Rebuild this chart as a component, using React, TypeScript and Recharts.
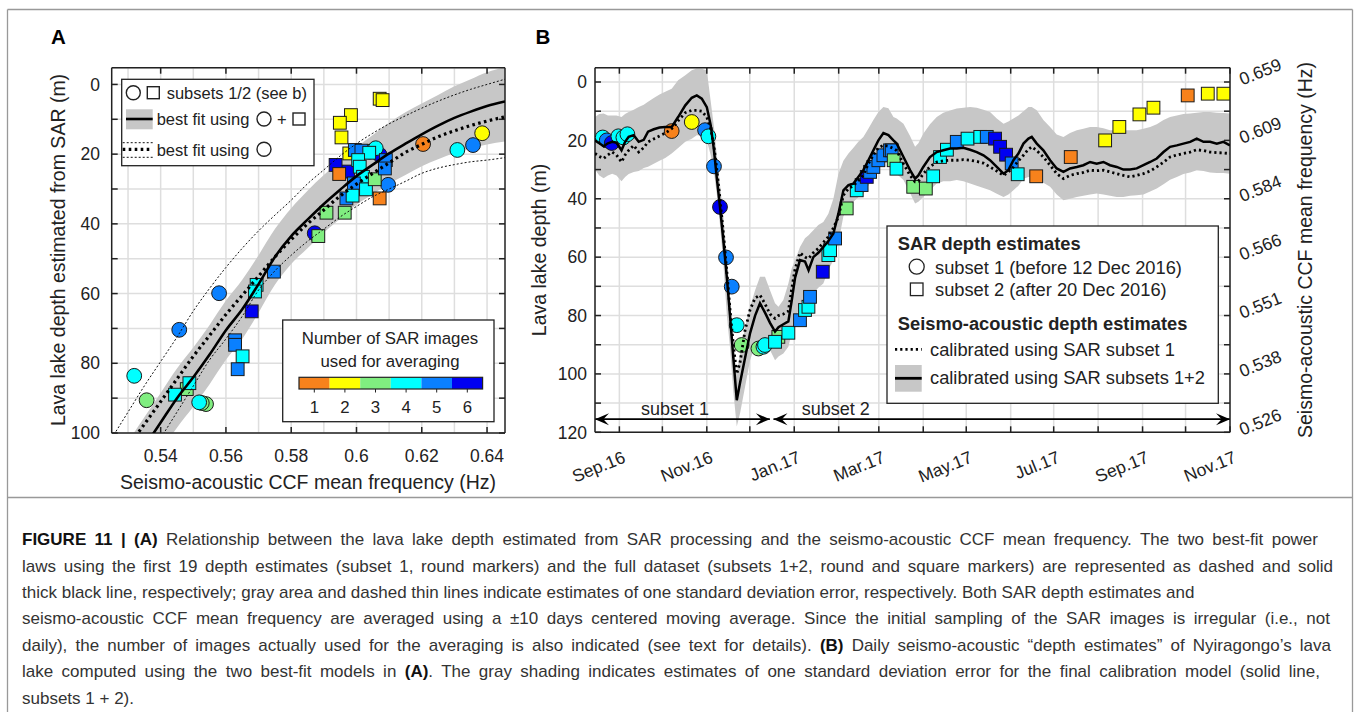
import {
  ComposedChart,
  Line,
  Area,
  Scatter,
  XAxis,
  YAxis,
  CartesianGrid,
  ReferenceLine,
  ReferenceDot
} from 'recharts'

const FONT = '"Liberation Sans", Arial, Helvetica, sans-serif'
const INK = '#222'
const GRID = '#dedede'
const BAND = '#c7c7c7'

// colour for "number of SAR images used for averaging" (1..6)
const countColors = ['#f7821c', '#ffff00', '#80ee80', '#00ffff', '#0a80ff', '#0000f2']
const countLabels = ['1', '2', '3', '4', '5', '6']

// ---------- panel A: depth vs CCF mean frequency ----------
const freqTicksA = [0.54, 0.56, 0.58, 0.6, 0.62, 0.64]
const freqGridA = [0.53, 0.54, 0.55, 0.56, 0.57, 0.58, 0.59, 0.6, 0.61, 0.62, 0.63, 0.64]
const depthTicksA = [0, 10, 20, 30, 40, 50, 60, 70, 80, 90, 100]

const fitFreq = [0.525, 0.53, 0.535, 0.54, 0.545, 0.55, 0.555, 0.56, 0.565, 0.57, 0.575, 0.58, 0.585, 0.59, 0.595, 0.6, 0.605, 0.61, 0.615, 0.62, 0.625, 0.63, 0.635, 0.64, 0.6455]
const fitBoth = [118, 111, 104, 97, 90, 84, 77.5, 70.5, 64.5, 57.3, 49.5, 43.5, 38.8, 34.3, 30.2, 26.3, 23, 19.8, 17, 14.3, 11.8, 9.6, 7.8, 6.2, 4.9]
const fitBothTop = [109.5, 102.5, 95.5, 88.5, 81.5, 75.5, 69, 62, 56, 49, 41.5, 35.5, 30.5, 26, 22, 18, 14.5, 11, 8, 5.5, 3, 0.5, -1.5, -3.5, -5]
const fitBothBottom = [126.5, 119.5, 112.5, 105.5, 98.5, 92.5, 86, 79, 73, 65.5, 57.5, 51.5, 47, 42.5, 38.5, 34.5, 31.5, 28.5, 26, 23.5, 21.5, 19.7, 18.3, 17.2, 16.4]
const fitSub1 = [111, 104, 97.5, 91, 84.5, 78, 72, 66, 60.5, 55, 49.5, 44.5, 40, 36, 32, 28.6, 25.5, 22.5, 19.5, 17.2, 15, 13.3, 11.8, 10.5, 9.3]
const fitSub1Top = [101.5, 94, 86.5, 79.5, 72.5, 65, 58.5, 52.5, 47, 42, 37.5, 33.2, 28.5, 24.5, 20.5, 17, 14, 11.3, 9, 6.8, 4.8, 3, 1.4, 0, -1.5]
const fitSub1Bottom = [125, 117, 109, 101.5, 94, 86.5, 79, 73, 66.5, 59, 53.5, 49, 45, 41.5, 38, 35, 32.2, 30, 27.8, 25.5, 24, 23, 22.2, 21.7, 21]

const circleFreqA = [0.5319, 0.5357, 0.5457, 0.5579, 0.5539, 0.5526, 0.5518, 0.5872, 0.6204, 0.6309, 0.6357, 0.6385, 0.6071, 0.6097, 0.6041, 0.6059]
const circleDepthA = [83.6, 90.6, 70.4, 59.9, 91.7, 91.4, 91.2, 42.7, 17.1, 18.8, 17.4, 14.0, 20.2, 28.8, 19.3, 18.3]
const circleCountA = [4, 3, 5, 5, 3, 3, 4, 6, 1, 4, 5, 2, 6, 5, 4, 4]

const squareFreqA = [0.6071, 0.608, 0.5983, 0.5949, 0.5954, 0.5978, 0.5974, 0.5936, 0.5947, 0.5995, 0.6015, 0.6039, 0.6005, 0.601, 0.602, 0.5992, 0.6029, 0.5969, 0.5988, 0.6056, 0.609, 0.6087, 0.6071, 0.5964, 0.5908, 0.5883, 0.5747, 0.5694, 0.5689, 0.5679, 0.5628, 0.5628, 0.5651, 0.5636, 0.548, 0.5488, 0.5444]
const squareDepthA = [4.1, 4.5, 8.8, 11.0, 15.2, 19.8, 25.0, 23.1, 25.7, 18.8, 19.0, 19.6, 21.7, 23.6, 26.5, 28.4, 30.1, 32.7, 31.9, 27.2, 21.7, 24.1, 32.7, 36.8, 36.8, 43.5, 53.7, 57.5, 59.4, 65.1, 73.4, 74.7, 78.0, 81.7, 87.4, 85.7, 89.0]
const squareCountA = [2, 2, 2, 2, 2, 2, 6, 6, 1, 5, 5, 4, 4, 4, 4, 5, 4, 5, 4, 3, 5, 5, 1, 3, 3, 3, 5, 4, 4, 6, 5, 5, 4, 5, 3, 4, 4]

// ---------- panel B: daily depth, days counted from 1 Sep 2016 ----------
const monthTickDays = [0, 30, 61, 91, 122, 153, 181, 212, 242, 273, 303, 334, 365, 395, 426]
const monthTickLabels = ['Sep.16', '', 'Nov.16', '', 'Jan.17', '', 'Mar.17', '', 'May.17', '', 'Jul.17', '', 'Sep.17', '', 'Nov.17']
const depthTicksB = [0, 10, 20, 30, 40, 50, 60, 70, 80, 90, 100, 110, 120]
const freqLabelsB = ['0.659', '0.609', '0.584', '0.566', '0.551', '0.538', '0.526'] // at depth 0, 20, ... 120

const dayB = [
  -17, -14, -11, -8, -5, -2, 1.5, 4, 6.5, 10,
  13.5, 17, 20, 24, 28, 32, 36.5, 41, 46, 50.5,
  54, 57.5, 61, 63.7, 66, 68, 70.2, 72.6, 75, 77.2,
  79.5, 81.9, 84.2, 87.7, 91.2, 94.7, 98.1, 101.6, 105.1, 108.6,
  111, 114.4, 117.9, 120.2, 122.6, 126, 129.5, 132, 135.3, 138.8,
  142.3, 145.8, 149.3, 152.8, 156.3, 159.8, 163.3, 166.7, 170.2, 173.7,
  177.2, 180.7, 184.2, 187.7, 191.2, 193.5, 198.2, 202.8, 206.3, 208.6,
  212, 216.7, 221.4, 226, 230.7, 235.4, 240, 244.7, 249.3, 254,
  258.6, 263.3, 268, 271.4, 274.9, 278.4, 281.9, 285.4, 287.7, 291.2,
  295.8, 300.5, 305.1, 309.8, 314.4, 319.1, 323.7, 328.4, 333, 337.7,
  342.3, 347, 351.6, 356.3, 360.9, 365.6, 370.3, 374.9, 379.6, 384.2,
  388.9, 393.5, 398.2, 402.8, 407.5, 412.1, 416.8, 421.4, 426
]
const depthBothB = [
  20, 21, 22, 21, 20.5, 20.8, 23.4, 20.5, 18.8, 18.2,
  20.5, 19.8, 17, 16.2, 15.6, 15.4, 15.4, 12, 8, 5.4,
  4.6, 5.7, 8.6, 14.8, 23.3, 33, 42.8, 54.5, 67, 80,
  94.5, 109, 103, 94.5, 86, 80, 75.8, 79, 82.5, 85.5,
  84, 83, 82, 75, 67, 61, 61.5, 64.5, 60, 58.5,
  56.5, 54.5, 51.9, 45.1, 37.1, 35.3, 34.8, 32.5, 30.2, 26.8,
  23.4, 20, 17.5, 18.2, 20, 21.1, 25.7, 30.2, 33.1, 32,
  29.1, 25.7, 24, 23.4, 22.8, 22.8, 22.5, 23.2, 24, 25.1,
  26.8, 29.1, 31.4, 30.2, 26.8, 24.5, 21.1, 19.4, 18.8, 21.1,
  23.4, 26.8, 29.6, 30.8, 29.6, 29.1, 28.5, 27.4, 28, 27.4,
  28.5, 29.1, 30, 30, 29.6, 28.5, 27.4, 26.2, 24, 22.2,
  21.7, 21.1, 20.5, 19.4, 20.5, 20.5, 21.1, 20.5, 21.7
]
const depthSub1B = [
  24.5, 25.5, 26.2, 25, 24, 25, 27.4, 25, 23.4, 21.7,
  24, 22.5, 20.5, 19.5, 18.5, 17.5, 16, 13.3, 10.5, 9.7,
  9.7, 10, 12, 16, 22, 30, 40, 52, 65, 78,
  90, 100, 96, 85, 78, 74, 73, 76, 79.5, 81,
  80, 79.5, 78.5, 71, 64, 58.5, 60, 60.5, 58.5, 57,
  55, 53, 50, 46.2, 38.8, 36.5, 35.5, 33.8, 31.9, 28,
  25, 22.5, 21.7, 22, 22.8, 23.5, 28, 32, 34.2, 34,
  31.4, 29, 27.4, 27, 26.8, 26.8, 26.6, 26.8, 27.2, 27.8,
  29.1, 30.5, 32, 30.8, 29.1, 27, 25.1, 23, 22.2, 23.5,
  25.7, 28.5, 31.4, 33.1, 32, 31.4, 31, 30.2, 30.4, 30.2,
  30.8, 31.4, 32, 32.5, 32, 31.4, 30.5, 29.1, 27.5, 25.7,
  25, 24.5, 24, 23.2, 23.5, 24, 24.2, 24.3, 24.5
]
const bandTopB = [
  12, 11, 10.8, 11.5, 11.5, 11.5, 12, 11, 10.3, 9.5,
  8.6, 7.8, 6.8, 5.5, 4.3, 3.3, 2.3, -0.6, -2.3, -4,
  -4.6, -4.5, -4, 6.5, 15.5, 25, 35, 46.2, 60.5, 74,
  89.5, 99.8, 92.9, 84, 77, 71.3, 66.7, 66.7, 71.3, 75.8,
  77, 74.7, 69, 64, 61, 56.5, 53.5, 52.5, 50.8, 49,
  48, 45.1, 40, 31.5, 27, 24.5, 22.5, 20.5, 18.8, 16,
  13, 10.3, 8.6, 9, 12, 12.5, 14.3, 18.5, 22.2, 21,
  17.7, 14.5, 12, 10.5, 9.8, 9.1, 8.8, 8.6, 8.8, 9.5,
  10.3, 12.5, 14.3, 13.5, 12.5, 11.5, 10, 8.6, 8.6, 9.7,
  13, 15.4, 18, 18.8, 17.5, 16.5, 16, 15.4, 15.4, 15.8,
  16.5, 16.5, 16.5, 16.5, 16.5, 16, 15.4, 14.5, 13, 12,
  11.5, 11, 10.8, 10.5, 10.3, 10.3, 10.5, 10.6, 10.8
]
const bandBottomB = [
  30, 32, 33, 32, 31.4, 32, 34, 32.5, 31.5, 30.8,
  30.5, 29.5, 29, 28, 27, 26, 24.5, 22.6, 20.5, 19.4,
  18.2, 18.3, 20, 25, 31, 38.5, 49, 62.5, 80, 91,
  106, 118, 113.5, 104.4, 95.3, 90, 89, 88.4, 91.8, 95.3,
  94, 93, 90.7, 86, 82.7, 75.8, 74.7, 74, 72.4, 70.5,
  69, 64.5, 61, 55, 46, 43, 41, 39.5, 38.2, 35.5,
  32.5, 29.5, 27.9, 27.5, 30, 31.5, 33.6, 38, 41.6, 41,
  39.4, 37, 34.8, 34, 34, 33.6, 34, 34.8, 35.5, 36.3,
  37.1, 38.3, 39.4, 38.5, 37.1, 35.5, 33.1, 32.5, 32.5, 33,
  34.5, 35.9, 38.5, 40.5, 40, 39.4, 39, 38.5, 38.2, 38.5,
  39, 39.4, 39.4, 39, 38.8, 38.5, 37.5, 36.5, 35, 33.5,
  32.5, 31.5, 31, 30.2, 30.5, 31, 31.2, 31.2, 31.4
]

const circleDayB = [-11.6, -8.8, -5.3, -0.7, 2.8, 5.6, 36.5, 50.5, 59.8, 62.1, 66, 70.2, 74.4, 78.4, 81.9, 85.3, 97, 100.5, 101.6]
const circleDepthB = [19, 20, 20.9, 18.6, 19, 17.9, 16.8, 13.7, 16.5, 18.6, 28.9, 42.8, 60.1, 70.1, 83.3, 90.1, 91.3, 90.7, 90.1]
const circleCountB = [4, 5, 6, 4, 4, 4, 1, 2, 5, 4, 5, 6, 5, 5, 4, 3, 3, 4, 4]

const squareDayB = [110.9, 108.6, 117.9, 126, 129.5, 131.9, 133, 141.9, 145.8, 147, 150.5, 158.6, 165.6, 169, 172.6, 174.9, 177.2, 180.7, 184.2, 188.8, 190, 191.4, 193.3, 205, 213.8, 218.9, 223.7, 228.5, 235.4, 242.9, 251.8, 256.3, 262.1, 265.6, 269.8, 273.7, 277.9, 290.8, 314.9, 338.9, 348.8, 362.8, 372.6, 396.5, 410.5, 421.4]
const squareDepthB = [87.3, 89, 85.9, 81.6, 78.1, 77, 73.6, 65, 59.3, 57.6, 53.6, 43.3, 37.1, 35.3, 32.5, 30.8, 29.1, 26.8, 25.1, 23.4, 23.4, 26.8, 29.7, 35.9, 36.5, 32.3, 25.7, 23.2, 20.5, 19.4, 18.8, 18.8, 19.4, 22.2, 24.9, 27.9, 31.6, 32.3, 25.7, 20, 15.4, 11.1, 8.8, 4.6, 4, 4]
const squareCountB = [3, 4, 4, 5, 4, 4, 5, 6, 4, 4, 5, 3, 4, 5, 6, 5, 5, 5, 5, 5, 5, 3, 4, 3, 3, 4, 4, 4, 5, 4, 4, 5, 6, 6, 6, 5, 4, 1, 1, 2, 2, 2, 2, 1, 2, 2]

// tables for the library
const fitRowsA = fitFreq.map((f, i) => ({
  f,
  both: fitBoth[i],
  sub1: fitSub1[i],
  band: [fitBothTop[i], fitBothBottom[i]],
  sub1Top: fitSub1Top[i],
  sub1Bottom: fitSub1Bottom[i]
}))
const circlesA = circleFreqA.map((f, i) => ({ f, d: circleDepthA[i], n: circleCountA[i] }))
const squaresA = squareFreqA.map((f, i) => ({ f, d: squareDepthA[i], n: squareCountA[i] }))

const rowsB = dayB.map((day, i) => ({
  day,
  both: depthBothB[i],
  sub1: depthSub1B[i],
  band: [bandTopB[i], bandBottomB[i]]
}))
const circlesB = circleDayB.map((day, i) => ({ day, d: circleDepthB[i], n: circleCountB[i] }))
const squaresB = squareDayB.map((day, i) => ({ day, d: squareDepthB[i], n: squareCountB[i] }))

const axisLine = { stroke: INK, strokeWidth: 1.5 }
const tickLine = { stroke: INK, strokeWidth: 1.5 }
const tickFont = { fill: INK, fontSize: 17.5, fontFamily: FONT }

const CircleMark = (props: any) => {
  const { cx, cy, payload } = props
  if (cx == null || cy == null) return <g />
  return <circle cx={cx} cy={cy} r={7.4} fill={countColors[payload.n - 1]} stroke="#1a1a1a" strokeWidth={1} />
}

const SquareMark = (props: any) => {
  const { cx, cy, payload } = props
  if (cx == null || cy == null) return <g />
  return <rect x={cx - 6.4} y={cy - 6.4} width={12.8} height={12.8} fill={countColors[payload.n - 1]} stroke="#1a1a1a" strokeWidth={1} />
}

const MonthTick = (props: any) => {
  const { x, y, payload } = props
  const label = monthTickLabels[monthTickDays.indexOf(payload.value)]
  if (!label) return <g />
  return (
    <text x={x + 5} y={y} transform={`rotate(-22 ${x + 5} ${y})`} textAnchor="end" dominantBaseline="central" fontSize={17.5} fontFamily={FONT} fill={INK}>
      {label}
    </text>
  )
}

const FreqTick = (props: any) => {
  const { x, y, payload } = props
  if (payload.value % 20 !== 0) return <g />
  const label = freqLabelsB[payload.value / 20]
  return (
    <text x={x} y={y - 2} transform={`rotate(-22 ${x} ${y - 2})`} textAnchor="start" dominantBaseline="central" fontSize={17.5} fontFamily={FONT} fill={INK}>
      {label}
    </text>
  )
}

const DoubleArrow = (props: any) => {
  const { x1, y1, x2, y2 } = props
  const h = 14
  const w = 6
  return (
    <g>
      <line x1={x1} y1={y1} x2={x2} y2={y2} stroke="#000" strokeWidth={1.6} />
      <path d={`M${x1},${y1} L${x1 + h},${y1 - w} L${x1 + h * 0.6},${y1} L${x1 + h},${y1 + w} Z`} fill="#000" />
      <path d={`M${x2},${y2} L${x2 - h},${y2 - w} L${x2 - h * 0.6},${y2} L${x2 - h},${y2 + w} Z`} fill="#000" />
    </g>
  )
}

const evenLabel = (v: number) => (v % 20 === 0 ? String(v) : '')
const blank = () => ''

function PanelA() {
  const xDomain = [0.525, 0.6455]
  const yDomain = [-4.8, 100]
  return (
    <ComposedChart width={520} height={500} margin={{ top: 66.7, right: 14, bottom: 12, left: 51.7 }}>
      <CartesianGrid stroke={GRID} strokeWidth={1.5} verticalValues={freqGridA} />
      <XAxis
        dataKey="f"
        type="number"
        domain={xDomain}
        allowDataOverflow
        ticks={freqTicksA}
        interval={0}
        tickFormatter={(v: number) => String(Number(v.toFixed(2)))}
        tick={tickFont}
        tickSize={-6}
        tickMargin={23}
        height={55}
        axisLine={axisLine}
        tickLine={tickLine}
      />
      <XAxis xAxisId="top" orientation="top" dataKey="f" type="number" domain={xDomain} allowDataOverflow ticks={freqTicksA} interval={0} tickFormatter={blank} tickSize={-6} height={1} axisLine={axisLine} tickLine={tickLine} />
      <YAxis
        type="number"
        domain={yDomain}
        reversed
        allowDataOverflow
        ticks={depthTicksA}
        interval={0}
        tickFormatter={evenLabel}
        tick={tickFont}
        tickSize={-6}
        tickMargin={17.7}
        width={60}
        axisLine={axisLine}
        tickLine={tickLine}
      />
      <YAxis yAxisId="right" orientation="right" type="number" domain={yDomain} reversed allowDataOverflow ticks={depthTicksA} interval={0} tickFormatter={blank} tickSize={-6} width={1} axisLine={axisLine} tickLine={tickLine} />
      <Area data={fitRowsA} dataKey="band" type="monotone" stroke="none" fill={BAND} fillOpacity={1} isAnimationActive={false} />
      <Scatter data={circlesA} dataKey="d" shape={CircleMark} isAnimationActive={false} />
      <Scatter data={squaresA} dataKey="d" shape={SquareMark} isAnimationActive={false} />
      <Line data={fitRowsA} dataKey="sub1Top" type="monotone" stroke="#111" strokeWidth={1} strokeDasharray="2 2" dot={false} activeDot={false} isAnimationActive={false} zIndex={700} />
      <Line data={fitRowsA} dataKey="sub1Bottom" type="monotone" stroke="#111" strokeWidth={1} strokeDasharray="2 2" dot={false} activeDot={false} isAnimationActive={false} zIndex={700} />
      <Line data={fitRowsA} dataKey="sub1" type="monotone" stroke="#000" strokeWidth={3.2} strokeDasharray="2.6 3.4" dot={false} activeDot={false} isAnimationActive={false} zIndex={700} />
      <Line data={fitRowsA} dataKey="both" type="monotone" stroke="#000" strokeWidth={2.6} dot={false} activeDot={false} isAnimationActive={false} zIndex={700} />
    </ComposedChart>
  )
}

function PanelB() {
  const xDomain = [-17, 426]
  const yDomain = [-4.9, 120]
  return (
    <ComposedChart width={840} height={500} margin={{ top: 66.7, right: 40, bottom: 17.7, left: 25 }}>
      <CartesianGrid stroke={GRID} strokeWidth={1.5} />
      <XAxis
        dataKey="day"
        type="number"
        domain={xDomain}
        allowDataOverflow
        ticks={monthTickDays}
        interval={0}
        tick={<MonthTick />}
        tickSize={-6}
        tickMargin={30}
        height={50}
        axisLine={axisLine}
        tickLine={tickLine}
      />
      <XAxis xAxisId="top" orientation="top" dataKey="day" type="number" domain={xDomain} allowDataOverflow ticks={monthTickDays} interval={0} tickFormatter={blank} tickSize={-6} height={1} axisLine={axisLine} tickLine={tickLine} />
      <YAxis
        type="number"
        domain={yDomain}
        reversed
        allowDataOverflow
        ticks={depthTicksB}
        interval={0}
        tickFormatter={evenLabel}
        tick={tickFont}
        tickSize={-6}
        tickMargin={14}
        width={50}
        axisLine={axisLine}
        tickLine={tickLine}
      />
      <YAxis
        yAxisId="freq"
        orientation="right"
        type="number"
        domain={yDomain}
        reversed
        allowDataOverflow
        ticks={depthTicksB}
        interval={0}
        tick={<FreqTick />}
        tickSize={-6}
        tickMargin={16}
        width={90}
        axisLine={axisLine}
        tickLine={tickLine}
      />
      <Area data={rowsB} dataKey="band" type="linear" stroke="none" fill={BAND} fillOpacity={1} isAnimationActive={false} />
      <Scatter data={circlesB} dataKey="d" shape={CircleMark} isAnimationActive={false} />
      <Scatter data={squaresB} dataKey="d" shape={SquareMark} isAnimationActive={false} />
      <Line data={rowsB} dataKey="sub1" type="linear" stroke="#000" strokeWidth={2.8} strokeDasharray="2.2 3" dot={false} activeDot={false} isAnimationActive={false} zIndex={700} />
      <Line data={rowsB} dataKey="both" type="linear" stroke="#000" strokeWidth={2.5} dot={false} activeDot={false} isAnimationActive={false} zIndex={700} />
      <ReferenceLine segment={[{ x: -17, y: 115.5 }, { x: 105, y: 115.5 }]} shape={<DoubleArrow />} />
      <ReferenceLine segment={[{ x: 107.5, y: 115.5 }, { x: 426, y: 115.5 }]} shape={<DoubleArrow />} />
      <ReferenceDot x={38.8} y={111.8} r={0} fill="none" stroke="none" label={{ value: 'subset 1', position: 'center', fontSize: 18, fill: INK, fontFamily: FONT }} />
      <ReferenceDot x={151} y={111.8} r={0} fill="none" stroke="none" label={{ value: 'subset 2', position: 'center', fontSize: 18, fill: INK, fontFamily: FONT }} />
    </ComposedChart>
  )
}

// caption: one entry per printed line; full lines are justified to the given width
const captionLines = [
  [['FIGURE 11 | (A)', true], [' Relationship between the lava lake depth estimated from SAR processing and the seismo-acoustic CCF mean frequency. The two best-fit power', false]],
  [['laws using the first 19 depth estimates (subset 1, round markers) and the full dataset (subsets 1+2, round and square markers) are represented as dashed and solid', false]],
  [['thick black line, respectively; gray area and dashed thin lines indicate estimates of one standard deviation error, respectively. Both SAR depth estimates and', false]],
  [['seismo-acoustic CCF mean frequency are averaged using a \u00b110 days centered moving average. Since the initial sampling of the SAR images is irregular (i.e., not', false]],
  [['daily), the number of images actually used for the averaging is also indicated (see text for details). ', false], ['(B)', true], [' Daily seismo-acoustic \u201cdepth estimates\u201d of Nyiragongo\u2019s lava', false]],
  [['lake computed using the two best-fit models in ', false], ['(A)', true], ['. The gray shading indicates estimates of one standard deviation error for the final calibration model (solid line,', false]],
  [['subsets 1 + 2).', false]]
] as [string, boolean][][]
const captionWidths = [1296, 1311, 0, 1308, 1309, 1298, 0]

function Overlay() {
  const vTitle = (x: number, y: number, text: string) => (
    <text x={x} y={y} transform={`rotate(-90 ${x} ${y})`} textAnchor="middle" dominantBaseline="central" fontSize={19.5}>
      {text}
    </text>
  )
  const cbX = 299
  const cbW = 30.6
  return (
    <svg width={1360} height={712} style={{ position: 'absolute', left: 0, top: 0, pointerEvents: 'none' }} fontFamily={FONT} fill={INK}>
      {/* figure frame */}
      <line x1={7.5} y1={9.5} x2={1352.5} y2={9.5} stroke="#999" strokeWidth={1.3} />
      <line x1={7.5} y1={9.5} x2={7.5} y2={712} stroke="#999" strokeWidth={1.3} />
      <line x1={1352.5} y1={9.5} x2={1352.5} y2={712} stroke="#999" strokeWidth={1.3} />
      <line x1={7.5} y1={497.5} x2={1352.5} y2={497.5} stroke="#999" strokeWidth={1.3} />

      <text x={51} y={43.5} fontSize={20.5} fontWeight="bold" fill="#000">A</text>
      <text x={535.5} y={43.5} fontSize={20.5} fontWeight="bold" fill="#000">B</text>

      {/* axis titles */}
      <text x={308} y={482} textAnchor="middle" dominantBaseline="central" fontSize={19.5}>Seismo-acoustic CCF mean frequency (Hz)</text>
      {vTitle(58.3, 250, 'Lava lake depth estimated from SAR (m)')}
      {vTitle(538.8, 250, 'Lava lake depth (m)')}
      {vTitle(1305, 250, 'Seismo-acoustic CCF mean frequency (Hz)')}

      {/* panel A marker / fit legend */}
      <g fontSize={16.5}>
        <rect x={121.7} y={79.3} width={192.3} height={86.4} fill="#fff" stroke={INK} strokeWidth={1.3} />
        <circle cx={133.3} cy={92.7} r={7} fill="none" stroke={INK} strokeWidth={1.4} />
        <rect x={147.3} y={86.7} width={12} height={12} fill="none" stroke={INK} strokeWidth={1.4} />
        <text x={166.7} y={93} dominantBaseline="central">subsets 1/2 (see b)</text>
        <rect x={126} y={109.3} width={26.7} height={20} fill={BAND} />
        <line x1={126} y1={119} x2={152.7} y2={119} stroke="#000" strokeWidth={2.6} />
        <text x={156.7} y={119.3} dominantBaseline="central">best fit using</text>
        <circle cx={264} cy={119} r={7} fill="none" stroke={INK} strokeWidth={1.4} />
        <text x={281.7} y={119.3} textAnchor="middle" dominantBaseline="central">+</text>
        <rect x={293} y={113} width={12} height={12} fill="none" stroke={INK} strokeWidth={1.4} />
        <line x1={122.7} y1={142.7} x2={152.7} y2={142.7} stroke="#111" strokeWidth={1} strokeDasharray="2 2" />
        <line x1={122.7} y1={149.3} x2={152.7} y2={149.3} stroke="#000" strokeWidth={3.2} strokeDasharray="2.6 3.4" />
        <line x1={122.7} y1={157.3} x2={152.7} y2={157.3} stroke="#111" strokeWidth={1} strokeDasharray="2 2" />
        <text x={156.7} y={149.6} dominantBaseline="central">best fit using</text>
        <circle cx={264} cy={149.3} r={7} fill="none" stroke={INK} strokeWidth={1.4} />
      </g>

      {/* panel A colour scale */}
      <g fontSize={16.8}>
        <rect x={282.7} y={320} width={211.3} height={101.7} fill="#fff" stroke={INK} strokeWidth={1.3} />
        <text x={390} y={338.5} textAnchor="middle" dominantBaseline="central">Number of SAR images</text>
        <text x={390} y={361.2} textAnchor="middle" dominantBaseline="central">used for averaging</text>
        {countColors.map((c, i) => (
          <rect key={c} x={cbX + i * cbW} y={377.3} width={cbW} height={11.7} fill={c} />
        ))}
        <rect x={cbX} y={377.3} width={cbW * 6} height={11.7} fill="none" stroke={INK} strokeWidth={1.2} />
        {countLabels.map((t, i) => (
          <g key={t}>
            <line x1={cbX + (i + 0.5) * cbW} y1={389} x2={cbX + (i + 0.5) * cbW} y2={392.5} stroke={INK} strokeWidth={1} />
            <text x={cbX + (i + 0.5) * cbW} y={407} textAnchor="middle" dominantBaseline="central">{t}</text>
          </g>
        ))}
      </g>

      {/* panel B legend */}
      <g fontSize={18.3}>
        <rect x={887} y={226} width={331.3} height={177.3} fill="#fff" stroke={INK} strokeWidth={1.3} />
        <text x={897.8} y={243} dominantBaseline="central" fontWeight="bold">SAR depth estimates</text>
        <circle cx={916.7} cy={266.7} r={7.5} fill="none" stroke={INK} strokeWidth={1.3} />
        <text x={935} y={267} dominantBaseline="central">subset 1 (before 12 Dec 2016)</text>
        <rect x={910.4} y={283} width={12.6} height={12.6} fill="none" stroke={INK} strokeWidth={1.3} />
        <text x={935} y={289.6} dominantBaseline="central">subset 2 (after 20 Dec 2016)</text>
        <text x={897.8} y={323.6} dominantBaseline="central" fontWeight="bold">Seismo-acoustic depth estimates</text>
        <line x1={895} y1={349.3} x2={921.7} y2={349.3} stroke="#000" strokeWidth={2.8} strokeDasharray="2.2 3" />
        <text x={930} y={349.6} dominantBaseline="central">calibrated using SAR subset 1</text>
        <rect x={895} y={365} width={26.7} height={26.7} fill={BAND} />
        <line x1={895} y1={378.3} x2={921.7} y2={378.3} stroke="#000" strokeWidth={2.8} />
        <text x={930} y={377} dominantBaseline="central">calibrated using SAR subsets 1+2</text>
      </g>
    </svg>
  )
}

export default function App() {
  return (
    <div style={{ position: 'absolute', left: 0, top: 0, width: 1360, height: 712, background: '#fff', overflow: 'hidden', fontFamily: FONT }}>
      <div style={{ position: 'absolute', left: 0, top: 0 }}>
        <PanelA />
      </div>
      <div style={{ position: 'absolute', left: 520, top: 0 }}>
        <PanelB />
      </div>
      <Overlay />
      <div style={{ position: 'absolute', left: 22, top: 527.1, fontSize: 17, lineHeight: '26.4px', color: '#333' }}>
        {captionLines.map((parts, i) => {
          const w = captionWidths[i]
          const lineStyle: any = w
            ? { width: w, whiteSpace: 'nowrap', textAlign: 'justify', textAlignLast: 'justify' }
            : { whiteSpace: 'nowrap' }
          return (
            <div key={i} style={lineStyle}>
              {parts.map(([t, bold], j) => (
                <span key={j} style={bold ? { fontWeight: 'bold', color: '#111' } : undefined}>
                  {t}
                </span>
              ))}
            </div>
          )
        })}
      </div>
    </div>
  )
}
